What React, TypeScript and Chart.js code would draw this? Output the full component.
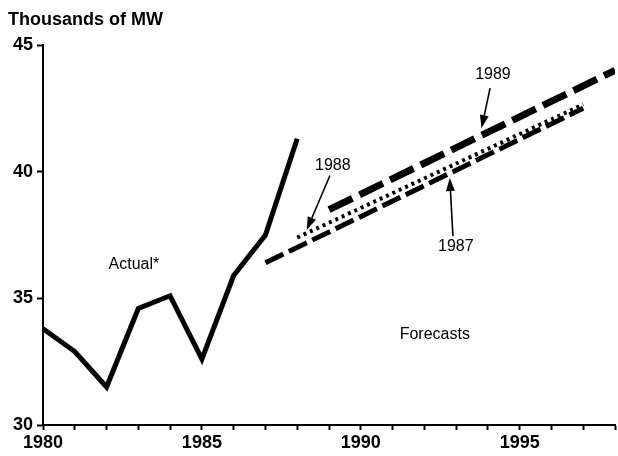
import React, { useEffect, useRef } from "react";
import { Chart, registerables } from "chart.js";

Chart.register(...registerables);

const FONT = '"Liberation Sans", Arial, Helvetica, sans-serif';

// Actual peak demand
const actualYears = [1980, 1981, 1982, 1983, 1984, 1985, 1986, 1987, 1988];
const actualValues = [33.8, 32.9, 31.5, 34.6, 35.1, 32.6, 35.9, 37.5, 41.3];

// Forecasts (start and end points)
const f1987Years = [1987, 1997];
const f1987Values = [36.4, 42.5];
const f1988Years = [1988, 1997];
const f1988Values = [37.4, 42.65];
const f1989Years = [1989, 1998];
const f1989Values = [38.5, 44.0];

const yTicks = [30, 35, 40, 45];
const xLabelYears = [1980, 1985, 1990, 1995];

// text annotations [label, x (year), y (value)]
const noteLabels = ["Actual*", "1988", "1987", "1989", "Forecasts"];
const noteX = [1982.86, 1989.12, 1992.99, 1994.16, 1992.33];
const noteY = [36.35, 40.22, 37.03, 43.85, 33.55];

// arrows: from (tail) -> to (tip), in data units
const arrowFromX = [1989.03, 1992.9, 1994.07];
const arrowFromY = [39.85, 37.45, 43.3];
const arrowToX = [1988.3, 1992.8, 1993.8];
const arrowToY = [37.7, 39.75, 41.72];

const pts = (xs: number[], ys: number[]) => xs.map((x, i) => ({ x, y: ys[i] }));

const annotations = {
  id: "annotations",
  afterDatasetsDraw(chart: any) {
    const ctx = chart.ctx;
    const xs = chart.scales.x;
    const ys = chart.scales.y;
    ctx.save();
    // title
    ctx.fillStyle = "#000";
    ctx.font = `bold 18px ${FONT}`;
    ctx.textAlign = "left";
    ctx.textBaseline = "alphabetic";
    ctx.fillText("Thousands of MW", 8, 25);

    // notes
    ctx.font = `16px ${FONT}`;
    ctx.textAlign = "center";
    ctx.textBaseline = "middle";
    noteLabels.forEach((t, i) => {
      ctx.fillText(t, xs.getPixelForValue(noteX[i]), ys.getPixelForValue(noteY[i]));
    });

    // arrows
    ctx.strokeStyle = "#000";
    ctx.lineWidth = 1.6;
    arrowFromX.forEach((_, i) => {
      const x1 = xs.getPixelForValue(arrowFromX[i]);
      const y1 = ys.getPixelForValue(arrowFromY[i]);
      const x2 = xs.getPixelForValue(arrowToX[i]);
      const y2 = ys.getPixelForValue(arrowToY[i]);
      const ang = Math.atan2(y2 - y1, x2 - x1);
      const hl = 13;
      const hw = 4.5;
      const bx = x2 - hl * Math.cos(ang);
      const by = y2 - hl * Math.sin(ang);
      ctx.beginPath();
      ctx.moveTo(x1, y1);
      ctx.lineTo(bx, by);
      ctx.stroke();
      ctx.beginPath();
      ctx.moveTo(x2, y2);
      ctx.lineTo(bx + hw * Math.sin(ang), by - hw * Math.cos(ang));
      ctx.lineTo(bx - hw * Math.sin(ang), by + hw * Math.cos(ang));
      ctx.closePath();
      ctx.fill();
    });
    ctx.restore();
  },
};

export default function App() {
  const ref = useRef<HTMLCanvasElement | null>(null);

  useEffect(() => {
    document.body.style.margin = "0";
    if (!ref.current) return;
    const chart = new Chart(ref.current, {
      type: "line",
      data: {
        datasets: [
          {
            label: "Actual",
            data: pts(actualYears, actualValues),
            borderColor: "#000",
            borderWidth: 5,
            borderJoinStyle: "miter",
            pointRadius: 0,
            tension: 0,
          },
          {
            label: "1987",
            data: pts(f1987Years, f1987Values),
            borderColor: "#000",
            borderWidth: 5,
            borderDash: [20, 6],
            pointRadius: 0,
          },
          {
            label: "1988",
            data: pts(f1988Years, f1988Values),
            borderColor: "#000",
            borderWidth: 4,
            borderDash: [3, 4],
            pointRadius: 0,
          },
          {
            label: "1989",
            data: pts(f1989Years, f1989Values),
            borderColor: "#000",
            borderWidth: 7,
            borderDash: [26, 8],
            pointRadius: 0,
          },
        ],
      },
      options: {
        responsive: false,
        animation: false,
        layout: { padding: { left: 0, right: 3, top: 45, bottom: 0 } },
        plugins: { legend: { display: false }, tooltip: { enabled: false }, title: { display: false } },
        scales: {
          x: {
            type: "linear",
            min: 1980,
            max: 1998,
            afterFit: (s: any) => {
              s.height = 31;
            },
            ticks: {
              stepSize: 1,
              autoSkip: false,
              maxRotation: 0,
              color: "#000",
              padding: 2,
              font: { family: FONT, size: 18, weight: "bold" },
              callback: (v: any) => (xLabelYears.includes(Number(v)) ? String(v) : ""),
            },
            grid: {
              drawOnChartArea: false,
              drawTicks: true,
              tickLength: 5,
              tickWidth: 2,
              tickColor: "#000",
            },
            border: { display: true, color: "#000", width: 2 },
          },
          y: {
            type: "linear",
            min: 30,
            max: 45,
            afterFit: (s: any) => {
              s.width = 43;
            },
            afterBuildTicks: (s: any) => {
              s.ticks = yTicks.map((v) => ({ value: v }));
            },
            ticks: {
              color: "#000",
              padding: 4,
              font: { family: FONT, size: 18, weight: "bold" },
            },
            grid: {
              drawOnChartArea: false,
              drawTicks: true,
              tickLength: 6,
              tickWidth: 2,
              tickColor: "#000",
            },
            border: { display: true, color: "#000", width: 2 },
          },
        },
      } as any,
      plugins: [annotations],
    });
    return () => chart.destroy();
  }, []);

  return (
    <div style={{ width: 618, height: 456, background: "#fff" }}>
      <canvas ref={ref} width={618} height={456} style={{ display: "block" }} />
    </div>
  );
}
